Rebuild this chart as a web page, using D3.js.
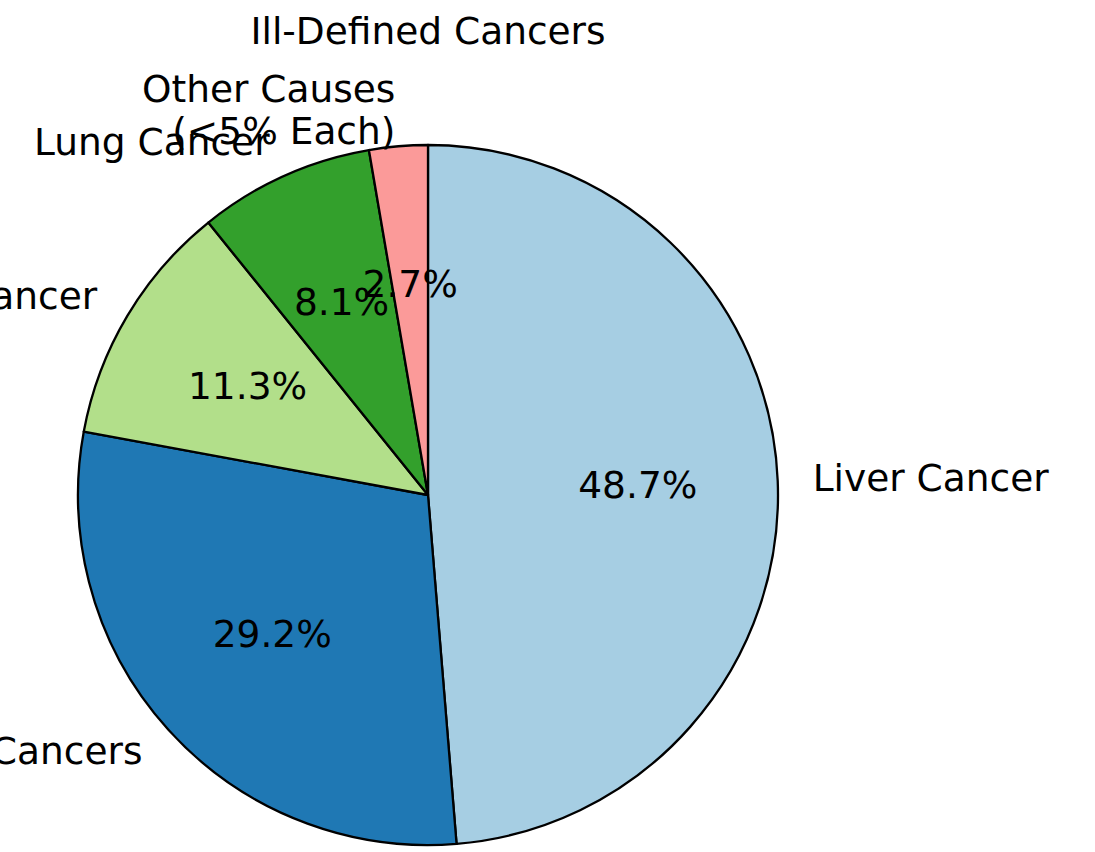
<!DOCTYPE html>
<html>
<head>
<meta charset="utf-8">
<title>Cancer deaths pie</title>
<script src="https://cdn.jsdelivr.net/npm/d3@7"></script>
<style>
  body { margin: 0; background: #fff; }
  svg { display: block; }
  text { font-family: "DejaVu Sans", sans-serif; fill: #000; }
</style>
</head>
<body>
<svg id="chart"></svg>
<script>
// slices, clockwise from 12 o'clock
var categories = ["Liver Cancer", "Other Cancers", "Stomach Cancer", "Lung Cancer", "Other Causes\n(<5% Each)", "Ill-Defined Cancers"];
var shares = [48.7, 29.2, 11.3, 8.1, 2.7, 0];
var sliceColors = ["#a6cee3", "#1f78b4", "#b2df8a", "#33a02c", "#fb9a99", "#e31a1c"];
var explode = [0, 0, 0, 0, 0, 0.22];

var width = 1095, height = 852;
var cx = 428, cy = 495, radius = 350;
var fontSize = 37.5, lineHeight = 42;

var svg = d3.select("#chart").attr("width", width).attr("height", height);
svg.append("rect").attr("width", width).attr("height", height).attr("fill", "#fff");

var data = categories.map(function (c, i) {
  return { name: c, value: shares[i], color: sliceColors[i], explode: explode[i] };
});

var pie = d3.pie().sort(null).value(function (d) { return d.value; });
var arcs = pie(data);
var total = d3.sum(shares);

var arc = d3.arc().innerRadius(0).outerRadius(radius);

function offset(a, dist) {
  return [Math.sin(a) * dist, -Math.cos(a) * dist];
}

var g = svg.append("g").attr("transform", "translate(" + cx + "," + cy + ")");

// wedges (zero-size slices are not drawn)
g.selectAll(".wedge")
  .data(arcs.filter(function (d) { return d.data.value > 0; }))
  .enter()
  .append("path")
  .attr("class", "wedge")
  .attr("d", arc)
  .attr("transform", function (d) {
    var m = (d.startAngle + d.endAngle) / 2;
    var o = offset(m, d.data.explode * radius);
    return "translate(" + o[0] + "," + o[1] + ")";
  })
  .attr("fill", function (d) { return d.data.color; })
  .attr("stroke", "#000")
  .attr("stroke-width", 2.3)
  .attr("stroke-linejoin", "round");

// labels + percentages
arcs.forEach(function (d) {
  var m = (d.startAngle + d.endAngle) / 2;
  var ex = d.data.explode;

  var lp = offset(m, (1.1 + ex) * radius);
  var s = Math.sin(m);
  var anchor = Math.abs(s) < 1e-9 ? "middle" : (s > 0 ? "start" : "end");
  var lines = d.data.name.split("\n");
  var t = g.append("text")
    .attr("text-anchor", anchor)
    .attr("font-size", fontSize);
  lines.forEach(function (line, k) {
    t.append("tspan")
      .attr("x", lp[0])
      .attr("y", lp[1] - (lines.length - 1) * lineHeight / 2 + k * lineHeight + fontSize * 0.3)
      .text(line);
  });

  var pct = d.data.value / total * 100;
  if (pct >= 1) {
    var pp = offset(m, (0.6 + ex) * radius);
    g.append("text")
      .attr("x", pp[0])
      .attr("y", pp[1] + fontSize * 0.3)
      .attr("text-anchor", "middle")
      .attr("font-size", fontSize)
      .text(pct.toFixed(1) + "%");
  }
});
</script>
</body>
</html>
